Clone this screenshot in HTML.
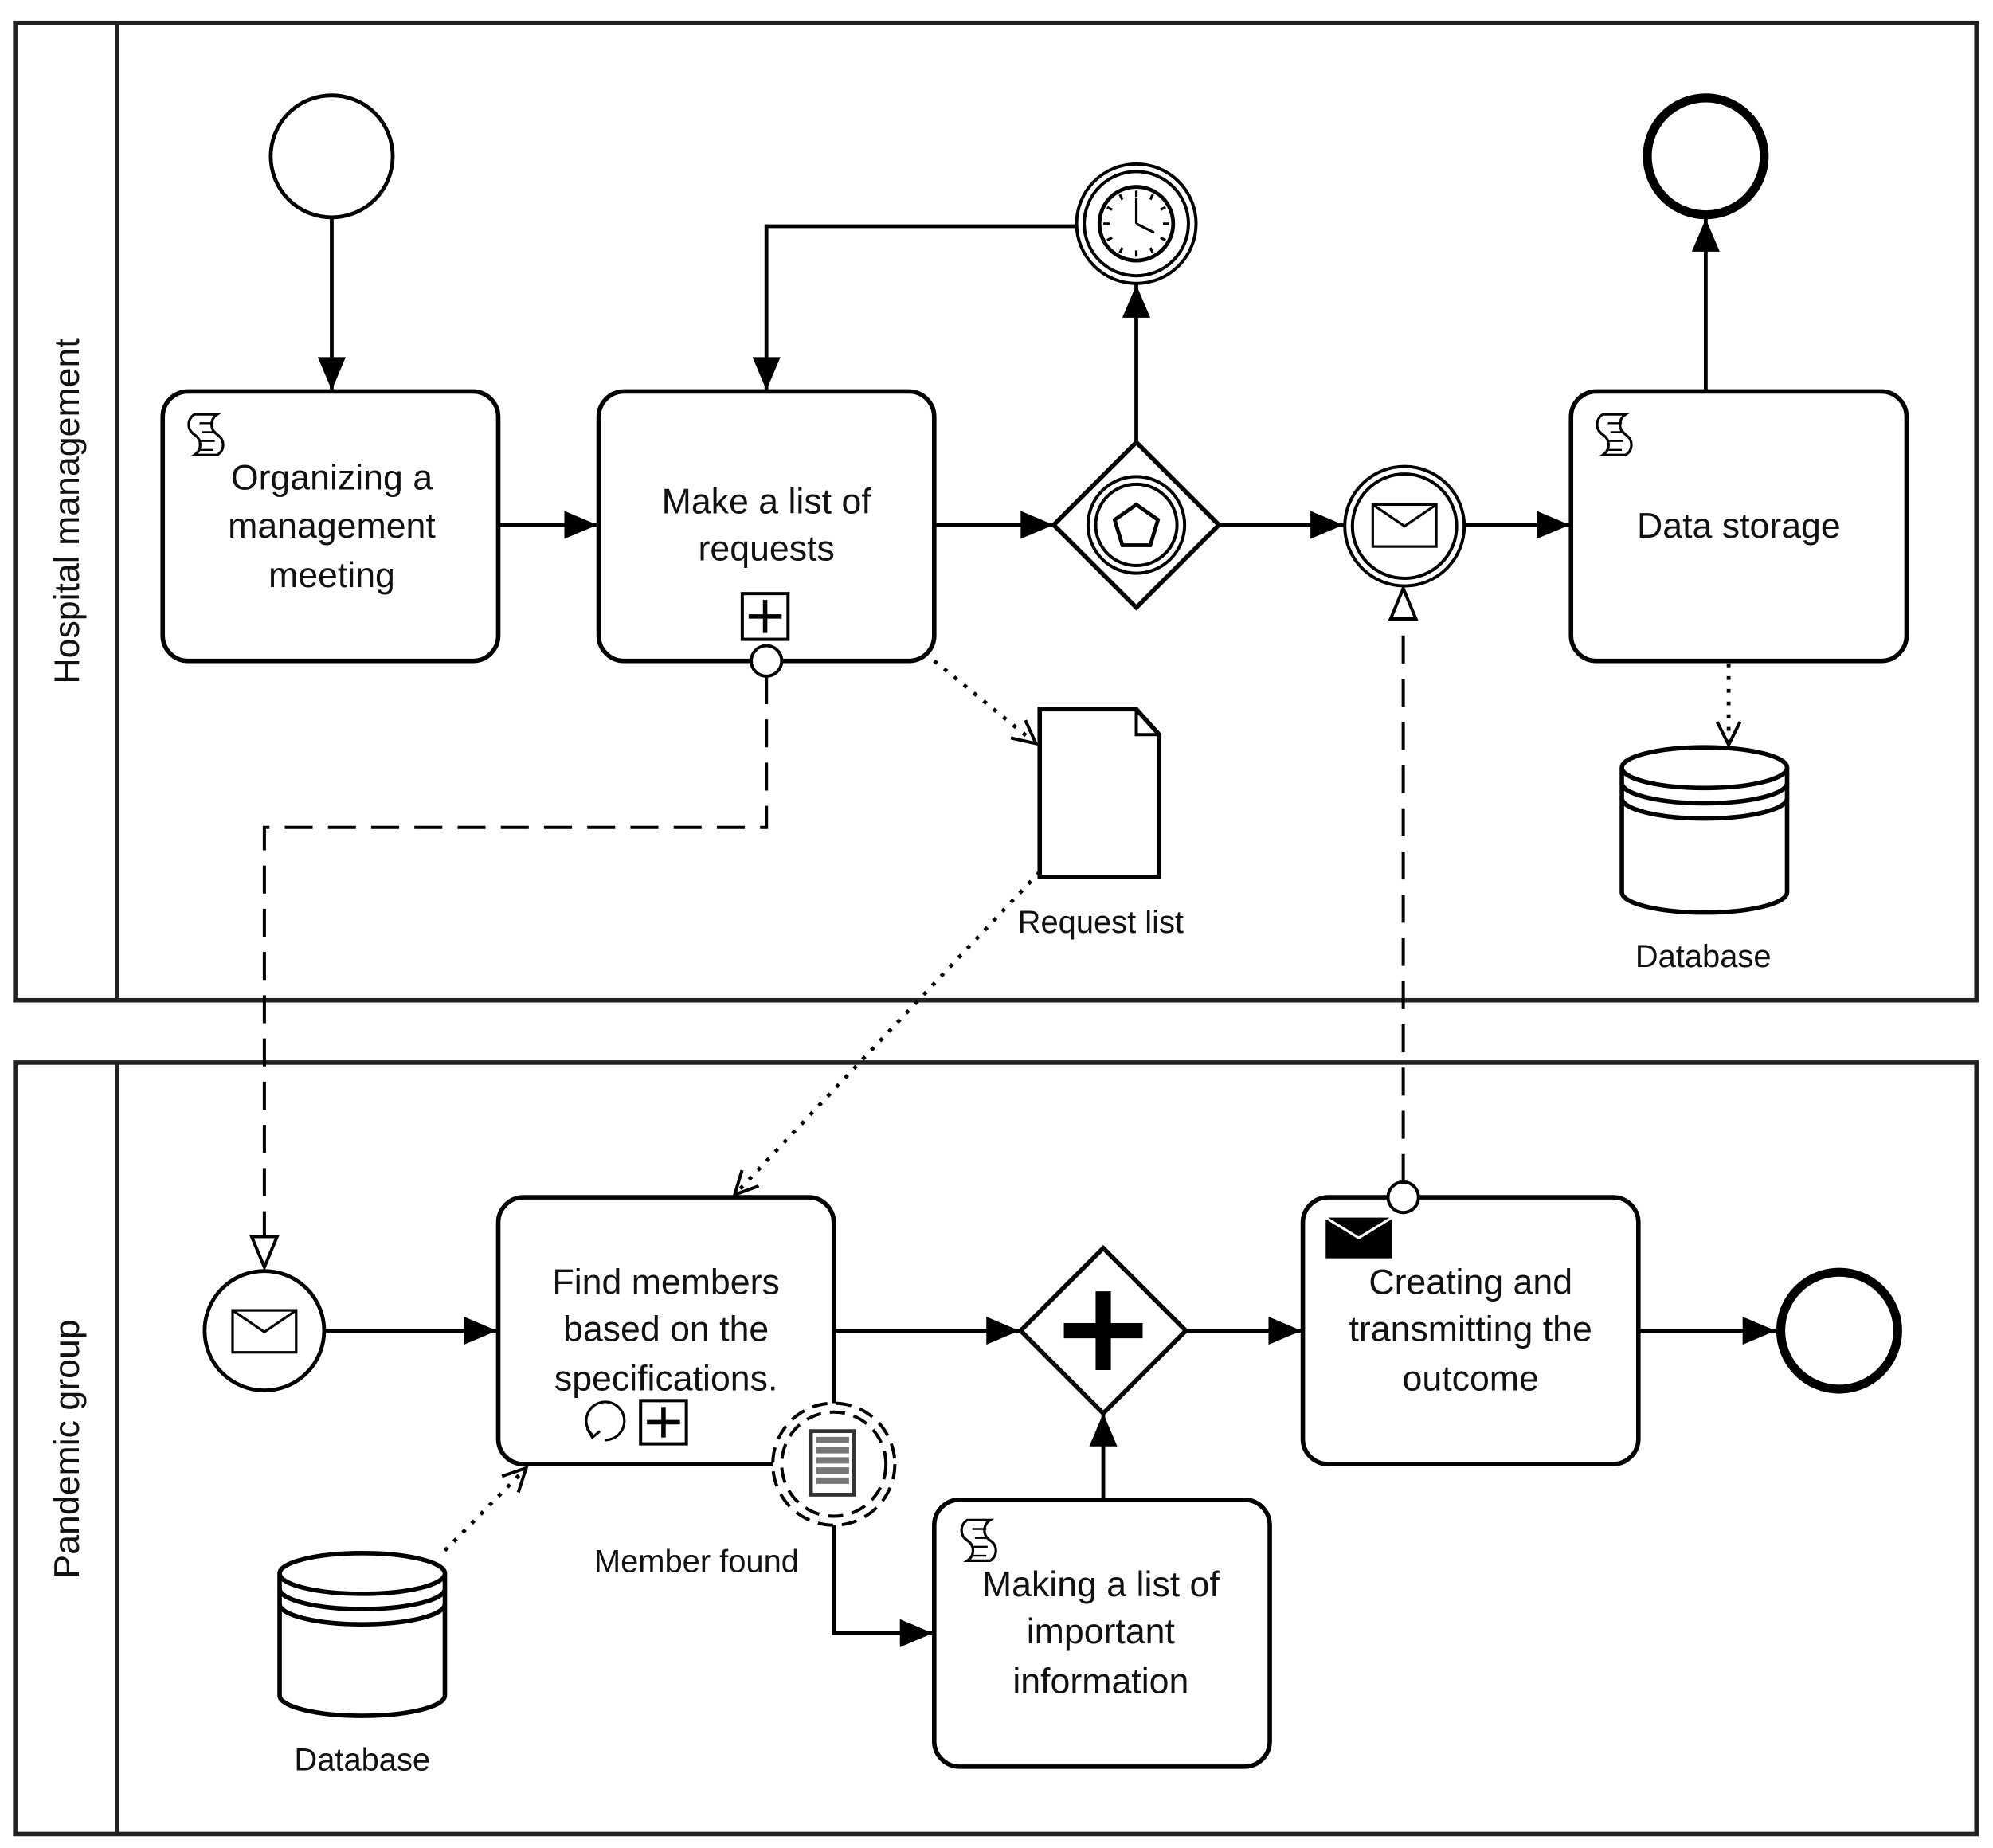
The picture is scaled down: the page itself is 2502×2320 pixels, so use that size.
<!DOCTYPE html>
<html><head><meta charset="utf-8"><style>
html,body{margin:0;padding:0;background:#fff;}
svg{display:block;}
text{font-family:"Liberation Sans",Arial,sans-serif;fill:#111;}
</style></head><body>
<svg width="2502" height="2320" viewBox="0 0 1568 1454" preserveAspectRatio="none" xmlns="http://www.w3.org/2000/svg">
<defs>
<marker id="a" markerUnits="userSpaceOnUse" markerWidth="30" markerHeight="26" refX="28" refY="13" orient="auto"><path d="M2,2 L28,13 L2,24 Z" fill="#000"/></marker>
<marker id="o" markerUnits="userSpaceOnUse" markerWidth="26" markerHeight="26" refX="22" refY="13" orient="auto"><path d="M4,4 L22,13 L4,22" fill="none" stroke="#000" stroke-width="2.5"/></marker>
<marker id="t" markerUnits="userSpaceOnUse" markerWidth="30" markerHeight="26" refX="27" refY="13" orient="auto"><path d="M3,3 L27,13 L3,23 Z" fill="#fff" stroke="#000" stroke-width="2.5"/></marker>
<g id="scr"><path d="M-9,-14 h18 c-6,4 -6,12 0,16 c6,4 6,12 0,16 h-18 c6,-4 6,-12 0,-16 c-6,-4 -6,-12 0,-16 z" fill="#fff" stroke="#000" stroke-width="2"/><path d="M-5,-7 h11 M-3,0 h11 M-4,7 h11 M-5,14 h11" stroke="#000" stroke-width="1.5"/></g>
</defs>
<g fill="none" stroke="#222" stroke-width="3.5">
<rect x="12" y="18" width="1543" height="769"/><line x1="92" y1="18" x2="92" y2="787"/>
<rect x="12" y="836" width="1543" height="607"/><line x1="92" y1="836" x2="92" y2="1443"/>
</g>
<text transform="translate(62,402) rotate(-90)" font-size="28" text-anchor="middle">Hospital management</text>
<text transform="translate(62,1140) rotate(-90)" font-size="28" text-anchor="middle">Pandemic group</text>

<g fill="none" stroke="#000" stroke-width="3">
<line x1="261" y1="171" x2="261" y2="307" marker-end="url(#a)"/>
<line x1="392" y1="413" x2="470" y2="413" marker-end="url(#a)"/>
<polyline points="847,178 603,178 603,307" marker-end="url(#a)"/>
<line x1="735" y1="413" x2="829" y2="413" marker-end="url(#a)"/>
<line x1="894" y1="348" x2="894" y2="224" marker-end="url(#a)"/>
<line x1="959" y1="413" x2="1057" y2="413" marker-end="url(#a)"/>
<line x1="1153" y1="413" x2="1235" y2="413" marker-end="url(#a)"/>
<line x1="1342" y1="308" x2="1342" y2="172" marker-end="url(#a)"/>
<line x1="255" y1="1047" x2="391" y2="1047" marker-end="url(#a)"/>
<line x1="656" y1="1047" x2="802" y2="1047" marker-end="url(#a)"/>
<line x1="934" y1="1047" x2="1024" y2="1047" marker-end="url(#a)"/>
<line x1="1289" y1="1047" x2="1397" y2="1047" marker-end="url(#a)"/>
<line x1="868" y1="1180" x2="868" y2="1112" marker-end="url(#a)"/>
<polyline points="656,1199 656,1285 734,1285" marker-end="url(#a)"/>
<g stroke-width="3" stroke-dasharray="3,7">
<line x1="735" y1="520" x2="815" y2="585" marker-end="url(#o)"/>
<line x1="818" y1="686" x2="578" y2="940" marker-end="url(#o)"/>
<line x1="1360" y1="522" x2="1360" y2="586" marker-end="url(#o)"/>
<line x1="350" y1="1220" x2="414" y2="1155" marker-end="url(#o)"/>
</g>
<g stroke-width="2.5" stroke-dasharray="22,12">
<polyline points="603,532 603,651 208,651 208,997" marker-end="url(#t)"/>
<line x1="1104" y1="930" x2="1104" y2="463" marker-end="url(#t)"/>
</g>
</g>

<g fill="#fff" stroke="#000">
<circle cx="261" cy="123" r="48" stroke-width="3"/>
<circle cx="1342" cy="123" r="46" stroke-width="7"/>
<circle cx="1447" cy="1047" r="46" stroke-width="7"/>
<circle cx="894" cy="176" r="47" stroke-width="2.5"/><circle cx="894" cy="176" r="41" stroke-width="2.5"/><circle cx="894" cy="176" r="29" stroke-width="3"/>
<circle cx="1105" cy="414" r="47" stroke-width="2.5"/><circle cx="1105" cy="414" r="41" stroke-width="2.5"/>
<circle cx="208" cy="1047" r="47" stroke-width="3"/>
</g>
<g stroke="#000" stroke-width="2" fill="none">
<line x1="894" y1="176" x2="894" y2="156"/><line x1="894" y1="176" x2="908" y2="183"/>
<path d="M894,150v5M894,202v-5M868,176h5M920,176h-5M881,153l2,4M907,153l-2,4M881,199l2,-4M907,199l-2,-4M871,163l4,2M917,163l-4,2M871,189l4,-2M917,189l-4,-2"/>
<rect x="1080" y="397" width="50" height="33"/><path d="M1080,397 L1105,414 L1130,397"/>
<rect x="183" y="1031" width="50" height="33"/><path d="M183,1031 L208,1048 L233,1031"/>
</g>
<g stroke="#000" fill="#fff">
<polygon points="894,348 959,413 894,478 829,413" stroke-width="3.5"/>
<circle cx="894" cy="413" r="38" stroke-width="2.5"/><circle cx="894" cy="413" r="32" stroke-width="2.5"/>
<polygon points="894,397 911,409 905,429 883,429 877,409" stroke-width="3"/>
<polygon points="868,982 933,1047 868,1112 803,1047" stroke-width="3.5"/>
</g>
<path d="M868,1016v62M837,1047h62" stroke="#000" stroke-width="12"/>

<g fill="#fff" stroke="#000" stroke-width="3.5">
<rect x="128" y="308" width="264" height="212" rx="20"/>
<rect x="471" y="308" width="264" height="212" rx="20"/>
<rect x="1236" y="308" width="264" height="212" rx="20"/>
<rect x="392" y="942" width="264" height="210" rx="20"/>
<rect x="1025" y="942" width="264" height="210" rx="20"/>
<rect x="735" y="1180" width="264" height="210" rx="20"/>
</g>
<use href="#scr" x="162" y="340"/><use href="#scr" x="1270" y="340"/><use href="#scr" x="770" y="1210"/>
<g stroke="#000" fill="#fff" stroke-width="2.5">
<rect x="584" y="467" width="36" height="36"/><rect x="504" y="1102" width="36" height="34"/>
<circle cx="603" cy="520" r="12"/><circle cx="1104" cy="942" r="12"/>
</g>
<path d="M602,472v26M589,485h26M522,1107v24M509,1119h26" stroke="#000" stroke-width="3.5"/>
<path d="M466,1129 a15,15 0 1 1 10,4" fill="none" stroke="#000" stroke-width="2"/><path d="M462,1124 l4,7 l6,-5" fill="none" stroke="#000" stroke-width="2"/>
<rect x="1043" y="958" width="52" height="32" fill="#000"/><path d="M1043,958 L1069,974 L1095,958" stroke="#fff" stroke-width="2" fill="none"/>
<circle cx="656" cy="1152" r="48" fill="#fff" stroke="#000" stroke-width="2.5" stroke-dasharray="12,7"/>
<circle cx="656" cy="1152" r="41" fill="none" stroke="#000" stroke-width="2.5" stroke-dasharray="12,7"/>
<rect x="638" y="1126" width="34" height="50" fill="#fff" stroke="#333" stroke-width="3"/>
<path d="M642,1133h26M642,1141h26M642,1149h26M642,1157h26M642,1165h26" stroke="#777" stroke-width="5"/>
<path d="M818,558 H894 L912,578 V690 H818 Z" fill="#fff" stroke="#000" stroke-width="3.5"/>
<path d="M894,558 V578 H912" fill="none" stroke="#000" stroke-width="2.5"/>
<g fill="#fff" stroke="#000" stroke-width="3.5">
<path d="M1276,604 V702 A65,16 0 0 0 1406,702 V604"/><ellipse cx="1341" cy="604" rx="65" ry="16"/>
<path d="M1276,616 A65,16 0 0 0 1406,616 M1276,628 A65,16 0 0 0 1406,628" fill="none"/>
<path d="M220,1238 V1334 A65,16 0 0 0 350,1334 V1238"/><ellipse cx="285" cy="1238" rx="65" ry="16"/>
<path d="M220,1250 A65,16 0 0 0 350,1250 M220,1262 A65,16 0 0 0 350,1262" fill="none"/>
</g>

<g font-size="28" text-anchor="middle">
<text x="261" y="385">Organizing a</text><text x="261" y="423">management</text><text x="261" y="462">meeting</text>
<text x="603" y="404">Make a list of</text><text x="603" y="441">requests</text>
<text x="1368" y="423">Data storage</text>
<text x="524" y="1018">Find members</text><text x="524" y="1055">based on the</text><text x="524" y="1094">specifications.</text>
<text x="1157" y="1018">Creating and</text><text x="1157" y="1055">transmitting the</text><text x="1157" y="1094">outcome</text>
<text x="866" y="1256">Making a list of</text><text x="866" y="1293">important</text><text x="866" y="1332">information</text>
</g>
<g font-size="25" text-anchor="middle">
<text x="866" y="734">Request list</text><text x="1340" y="761">Database</text>
<text x="548" y="1237">Member found</text><text x="285" y="1393">Database</text>
</g>
</svg>
</body></html>
